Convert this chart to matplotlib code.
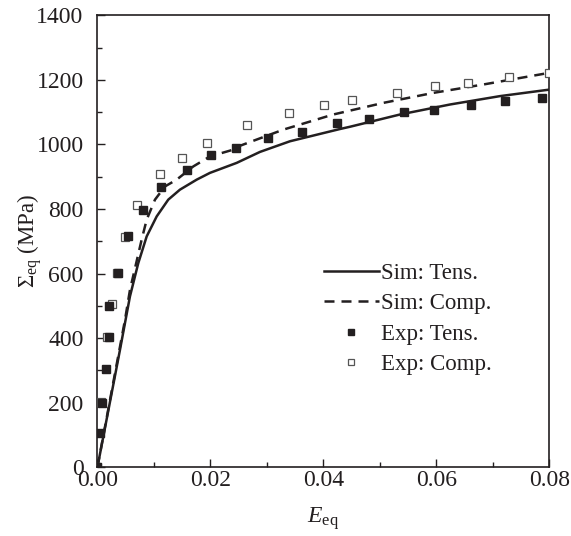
import matplotlib
matplotlib.use('Agg')
import matplotlib.pyplot as plt
from matplotlib.ticker import MultipleLocator

plt.rcParams['font.family'] = 'Liberation Serif'
plt.rcParams['mathtext.fontset'] = 'custom'
plt.rcParams['mathtext.rm'] = 'Liberation Serif'
plt.rcParams['mathtext.it'] = 'Liberation Serif:italic'

ink = '#231f20'

# simulaciones (curvas)
sim_tens_x = [0, 0.00398, 0.00575, 0.00722, 0.00871, 0.01048, 0.01253, 0.0146,
              0.01756, 0.01991, 0.02464, 0.02876, 0.03407, 0.04292, 0.04469,
              0.05354, 0.06239, 0.07124, 0.0799]
sim_tens_y = [0, 363, 529, 632, 715, 777, 829, 860,
              891, 912, 943, 977, 1010, 1048, 1055,
              1093, 1124, 1150, 1170]

sim_comp_x = [0, 0.00487, 0.00575, 0.00782, 0.00871, 0.01018, 0.01195, 0.01402,
              0.01696, 0.01991, 0.02404, 0.02522, 0.03288, 0.04173, 0.05058,
              0.05943, 0.06828, 0.0799]
sim_comp_y = [0, 456, 549, 705, 767, 829, 870, 891,
              932, 963, 984, 996, 1046, 1093, 1129,
              1160, 1186, 1222]

# experimentos (puntos)
exp_tens_x = [0, 0.00044, 0.00085, 0.0015, 0.00204, 0.00209, 0.00368, 0.00535,
              0.008, 0.01119, 0.01589, 0.02004, 0.02451, 0.03023, 0.03614, 0.04234,
              0.048, 0.05434, 0.0595, 0.06611, 0.07212, 0.07873]
exp_tens_y = [0, 105, 198, 304, 404, 498, 603, 715,
              798, 869, 920, 966, 989, 1019, 1040, 1068,
              1079, 1101, 1107, 1121, 1135, 1145]

exp_comp_x = [0, 0.00067, 0.00163, 0.00251, 0.0035, 0.00487, 0.00704, 0.01106,
              0.0149, 0.01933, 0.02651, 0.03395, 0.04004, 0.04504, 0.05301, 0.05968,
              0.06563, 0.07283, 0.07986]
exp_comp_y = [0, 203, 403, 506, 603, 713, 811, 909,
              959, 1005, 1061, 1097, 1124, 1138, 1159, 1180,
              1190, 1208, 1222]

fig = plt.figure(figsize=(5.71, 5.36), dpi=100)
ax = fig.add_axes([0.1707, 0.1287, 0.7916, 0.8424])

ax.plot(sim_tens_x, sim_tens_y, '-', color=ink, lw=1.8, label='Sim: Tens.', zorder=3)
ax.plot(sim_comp_x, sim_comp_y, color=ink, lw=1.8, linestyle=(0, (4, 2.8)),
        label='Sim: Comp.', zorder=3)
ax.plot(exp_tens_x, exp_tens_y, 's', color=ink, ms=5.8, ls='none',
        label='Exp: Tens.', zorder=5)
ax.plot(exp_comp_x, exp_comp_y, 's', mfc='white', mec='#555555', mew=0.9, ms=5.8,
        ls='none', label='Exp: Comp.', zorder=4)

ax.set_xlim(0, 0.08)
ax.set_ylim(0, 1400)
ax.xaxis.set_major_locator(MultipleLocator(0.02))
ax.xaxis.set_minor_locator(MultipleLocator(0.01))
ax.yaxis.set_major_locator(MultipleLocator(200))
ax.yaxis.set_minor_locator(MultipleLocator(100))
ax.xaxis.set_major_formatter(plt.FormatStrFormatter('%.2f'))
ax.tick_params(which='both', direction='in', top=False, right=False,
               labelsize=17, colors=ink, width=1.0)
ax.tick_params(which='major', length=6)
ax.tick_params(which='minor', length=3.5)
ax.tick_params(axis='x', which='major', pad=2)
ax.tick_params(axis='y', which='major', pad=10)
for s in ax.spines.values():
    s.set_linewidth(1.2)
    s.set_color(ink)

ax.set_xlabel(r'$E_{\rm eq}$', fontsize=17, color=ink)
ax.set_ylabel(r'$\mathit{\Sigma}_{\rm eq}$ (MPa)', fontsize=16.5, color=ink)
ax.xaxis.set_label_coords(0.5, -0.085)
ax.yaxis.set_label_coords(-0.118, 0.5)

leg = ax.legend(loc='center left', bbox_to_anchor=(0.48, 0.328), frameon=False,
                fontsize=16.5, handlelength=2.4, handletextpad=0.1,
                labelspacing=0.4, borderaxespad=0, markerscale=0.7)
for t in leg.get_texts():
    t.set_color(ink)

fig.savefig('out.png', dpi=100)
